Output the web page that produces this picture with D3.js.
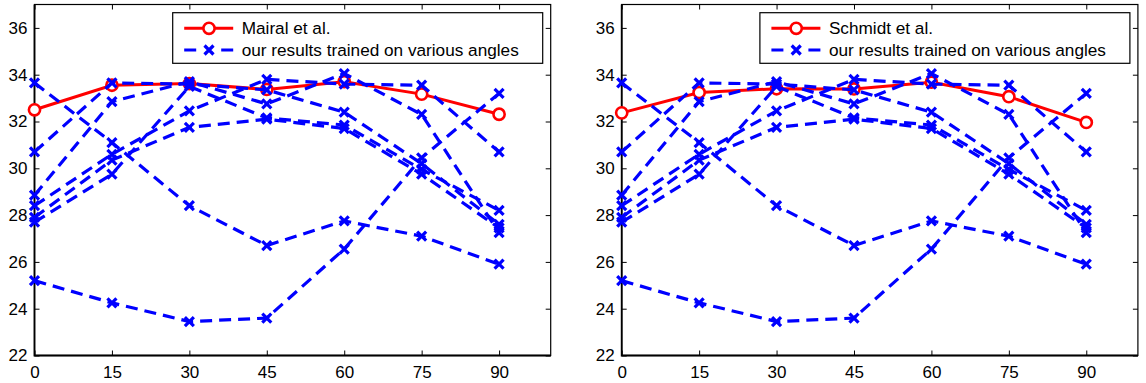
<!DOCTYPE html>
<html>
<head>
<meta charset="utf-8">
<script src="https://cdn.jsdelivr.net/npm/d3@7"></script>
<style>
  html, body { margin: 0; padding: 0; background: #fff; }
  svg { display: block; }
  text { font-family: "Liberation Sans", Arial, Helvetica, sans-serif; fill: #000; }
</style>
</head>
<body>
<svg id="fig" width="1146" height="383"></svg>
<script>
// Test angles (degrees) and axis ticks
const angles = [0, 15, 30, 45, 60, 75, 90];
const xTicks = [0, 15, 30, 45, 60, 75, 90];
const yTicks = [22, 24, 26, 28, 30, 32, 34, 36];

// Reference methods (PSNR per test angle)
const mairal  = [32.5, 33.55, 33.62, 33.37, 33.7, 33.17, 32.31];
const schmidt = [32.37, 33.24, 33.4, 33.39, 33.68, 33.06, 31.96];

// Our models, one curve per training angle
const ours0  = [33.65, 31.1, 28.4, 26.7, 27.75, 27.1, 25.9];
const ours15 = [30.7, 33.65, 33.6, 33.35, 32.4, 30.2, 27.6];
const ours30 = [28.85, 32.85, 33.7, 32.75, 34.05, 32.3, 27.25];
const ours45 = [28.4, 30.6, 32.45, 33.8, 33.6, 33.55, 30.7];
const ours60 = [27.9, 30.35, 31.75, 32.1, 31.7, 29.75, 27.45];
const ours75 = [27.7, 29.75, 33.5, 32.15, 31.85, 29.95, 28.2];
const ours90 = [25.2, 24.25, 23.45, 23.6, 26.55, 30.45, 33.2];
const ours = [ours0, ours15, ours30, ours45, ours60, ours75, ours90];

const legendOurs = "our results trained on various angles";
const panels = [
  { name: "Mairal et al.", ref: mairal, left: 34.5 },
  { name: "Schmidt et al.", ref: schmidt, left: 621.7 }
];

const W = 516.2, TOP = 4.5, BOTTOM = 355.5;
const RED = "#ff0000", BLUE = "#0000ff";
const DASH = "12,7";
const svg = d3.select("#fig");

function xMarker(g, cx, cy) {
  const s = 4.5;
  g.append("path")
    .attr("d", `M${cx - s},${cy - s}L${cx + s},${cy + s}M${cx - s},${cy + s}L${cx + s},${cy - s}`)
    .attr("stroke", BLUE).attr("stroke-width", 3.2).attr("fill", "none");
}

panels.forEach(p => {
  const x = d3.scaleLinear().domain([0, 100]).range([p.left, p.left + W]);
  const y = d3.scaleLinear().domain([22, 37]).range([BOTTOM, TOP]);
  const g = svg.append("g");

  // axes with inward ticks on all four sides
  const ax = [
    { a: d3.axisBottom(x).tickValues(xTicks).tickPadding(10), t: `translate(0,${BOTTOM})`, labels: true },
    { a: d3.axisTop(x).tickValues(xTicks), t: `translate(0,${TOP})`, labels: false },
    { a: d3.axisLeft(y).tickValues(yTicks).tickPadding(7), t: `translate(${p.left},0)`, labels: true },
    { a: d3.axisRight(y).tickValues(yTicks), t: `translate(${p.left + W},0)`, labels: false }
  ];
  ax.forEach(o => {
    const ag = g.append("g").attr("transform", o.t)
      .call(o.a.tickSizeInner(-5).tickSizeOuter(0));
    ag.select(".domain").remove();
    ag.selectAll(".tick line").attr("stroke", "#000").attr("stroke-width", 1);
    ag.selectAll(".tick text")
      .style("font-family", '"Liberation Sans", Arial, sans-serif')
      .style("font-size", "17px").attr("fill", "#000");
    if (!o.labels) ag.selectAll(".tick text").remove();
  });
  g.append("rect")
    .attr("x", p.left).attr("y", TOP).attr("width", W).attr("height", BOTTOM - TOP)
    .attr("fill", "none").attr("stroke", "#000").attr("stroke-width", 1.2);
  // heavier bottom and left spines
  g.append("path")
    .attr("d", `M${p.left},${TOP}V${BOTTOM}H${p.left + W}`)
    .attr("fill", "none").attr("stroke", "#000").attr("stroke-width", 1.8);

  const line = d3.line().x((d, i) => x(angles[i])).y(d => y(d));

  // reference method: solid red with open circles
  g.append("path").datum(p.ref).attr("d", line)
    .attr("fill", "none").attr("stroke", RED).attr("stroke-width", 3);
  p.ref.forEach((v, i) => {
    g.append("circle").attr("cx", x(angles[i])).attr("cy", y(v)).attr("r", 5.6)
      .attr("fill", "#fff").attr("stroke", RED).attr("stroke-width", 2.6);
  });

  // our curves: dashed blue with x markers
  ours.forEach(s => {
    g.append("path").datum(s).attr("d", line)
      .attr("fill", "none").attr("stroke", BLUE).attr("stroke-width", 3.2)
      .attr("stroke-dasharray", DASH);
    s.forEach((v, i) => xMarker(g, x(angles[i]), y(v)));
  });

  // legend
  const lx = p.left + W - 8 - 370, ly = 12.7;
  const lg = g.append("g");
  lg.append("rect").attr("x", lx).attr("y", ly).attr("width", 370).attr("height", 50.6)
    .attr("fill", "#fff").attr("stroke", "#000").attr("stroke-width", 1.2);
  const r1 = ly + 15.6, r2 = ly + 37.3;
  lg.append("line").attr("x1", lx + 11.5).attr("x2", lx + 60.5).attr("y1", r1).attr("y2", r1)
    .attr("stroke", RED).attr("stroke-width", 3);
  lg.append("circle").attr("cx", lx + 36.3).attr("cy", r1).attr("r", 5.6)
    .attr("fill", "#fff").attr("stroke", RED).attr("stroke-width", 2.6);
  lg.append("line").attr("x1", lx + 11.5).attr("x2", lx + 60.5).attr("y1", r2).attr("y2", r2)
    .attr("stroke", BLUE).attr("stroke-width", 3.2).attr("stroke-dasharray", "12,25");
  xMarker(lg, lx + 36.3, r2);
  lg.append("text").attr("x", lx + 69).attr("y", r1).attr("dy", "0.36em")
    .style("font-size", "17.2px").text(p.name);
  lg.append("text").attr("x", lx + 69).attr("y", r2).attr("dy", "0.36em")
    .style("font-size", "17.2px").text(legendOurs);
});
</script>
</body>
</html>
